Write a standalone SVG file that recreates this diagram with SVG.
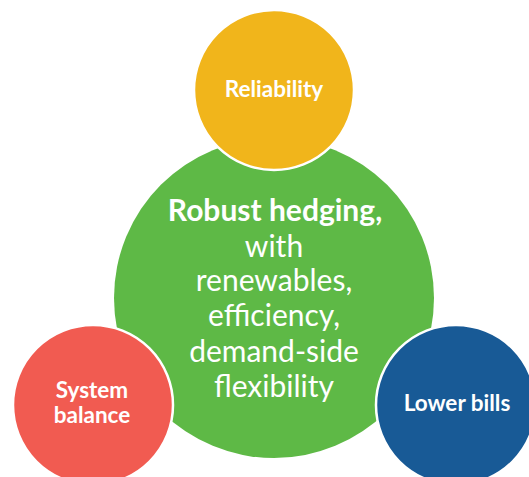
<svg xmlns="http://www.w3.org/2000/svg" width="529" height="477" viewBox="0 0 529 477">
<style>
.t{font-family:Lato,"Open Sans","Liberation Sans",sans-serif;fill:#fff;text-anchor:middle}
.b{font-weight:bold}
.small{font-size:22.5px}
.big{font-size:30px}
.sat{stroke:#fff;stroke-width:2.5}
</style>
<rect width="529" height="477" fill="#fff"/>
<g id="center">
<circle cx="274" cy="298" r="160" fill="#5EB946"/>
<text class="t b big" x="275" y="221">Robust hedging,</text>
<text class="t big" x="274" y="257">with</text>
<text class="t big" x="274" y="291">renewables,</text>
<text class="t big" x="274" y="326">efficiency,</text>
<text class="t big" x="274" y="362">demand-side</text>
<text class="t big" x="274" y="397">flexibility</text>
</g>
<g id="reliability">
<circle class="sat" cx="274" cy="90" r="80" fill="#F1B51B"/>
<text class="t b small" x="274" y="97">Reliability</text>
</g>
<g id="system-balance">
<circle class="sat" cx="93" cy="405" r="80" fill="#F15B51"/>
<text class="t b small" x="92" y="398">System</text>
<text class="t b small" x="92" y="423">balance</text>
</g>
<g id="lower-bills">
<circle class="sat" cx="456" cy="405" r="80" fill="#185A96"/>
<text class="t b small" x="457" y="411">Lower bills</text>
</g>
<g id="connectors"/>
</svg>
